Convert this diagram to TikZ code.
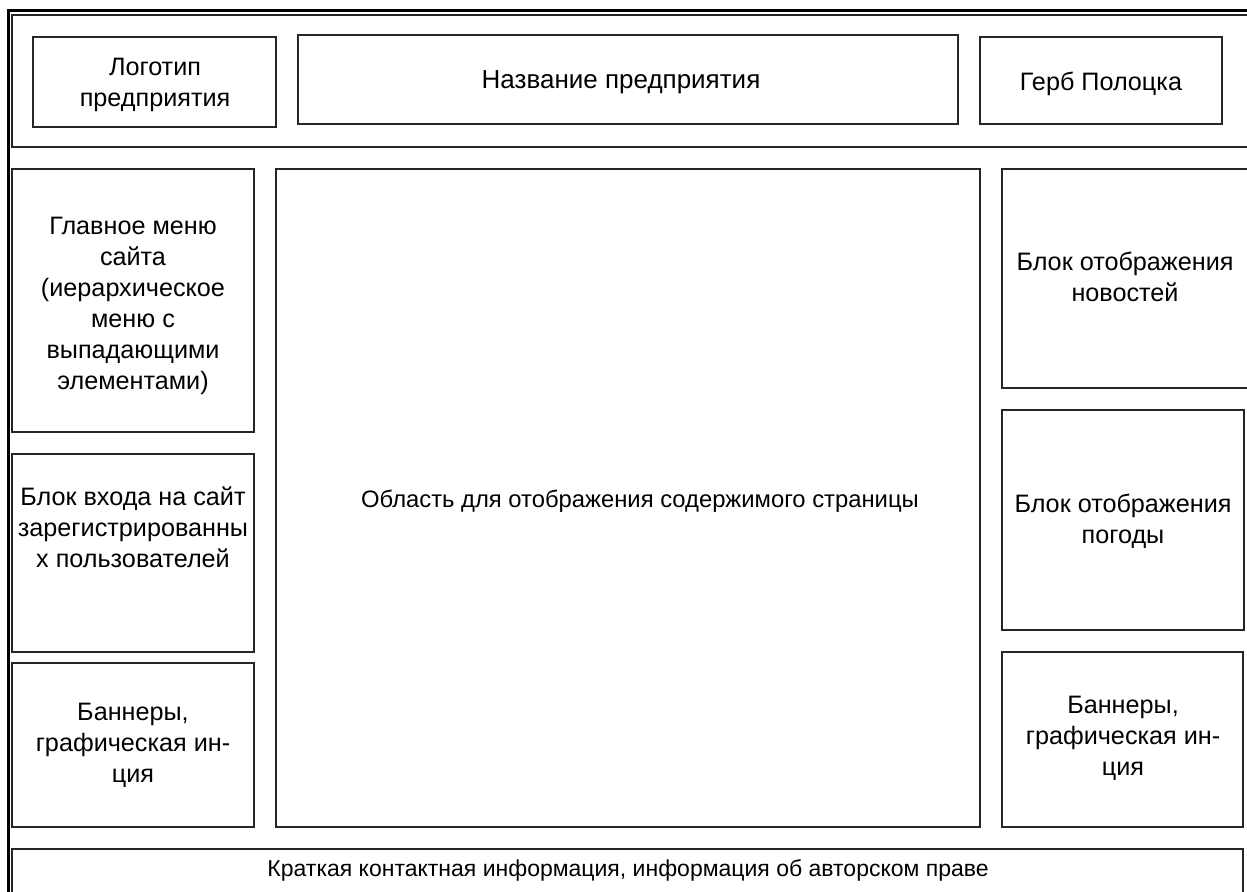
\documentclass[tikz,border=0pt]{standalone}
\usepackage{fontspec}
\setmainfont{Liberation Sans}
\usetikzlibrary{fit}
\begin{document}
\begin{tikzpicture}[x=0.5pt,y=-0.5pt,
  box/.style={draw=black!85, line width=0.6pt, inner sep=0pt},
  txt/.style={align=center, inner sep=0pt, font=\fontsize{12.6}{15.5}\selectfont},
  frame/.style={draw=black, line width=1.5pt, inner sep=0pt},
  hdr/.style={draw=black!85, line width=0.6pt, inner sep=0pt}]
\useasboundingbox (0,0) rectangle (1247,892);
\clip (0,0) rectangle (1247,892);
% outer frame and header band
\node[frame, fit={(8,11)(1280,910)}] (outer) {};
\node[hdr, fit={(12,15)(1250,147)}] (header) {};
% header boxes
\node[box, fit={(33,37)(276,127)}] (logo) {};
\node[txt] (logotxt) at (155,85) {Логотип\\предприятия};
\node[box, fit={(298,35)(958,124)}] (name) {};
\node[txt, font=\fontsize{13}{15.5}\selectfont] (nametxt) at (621,82.5) {Название предприятия};
\node[box, fit={(980,37)(1222,124)}] (gerb) {};
\node[txt] (gerbtxt) at (1101,83.5) {Герб Полоцка};
% left column
\node[box, fit={(12,169)(254,432)}] (menu) {};
\node[txt] (menutxt) at (133,305.5) {Главное меню\\сайта\\(иерархическое\\меню с\\выпадающими\\элементами)};
\node[box, fit={(12,454)(254,652)}] (login) {};
\node[txt] (logintxt) at (133,527) {Блок входа на сайт\\зарегистрированны\\х пользователей};
\node[box, fit={(12,663)(254,827)}] (banl) {};
\node[txt] (banltxt) at (133,745) {Баннеры,\\графическая ин-\\ция};
% content
\node[box, fit={(276,169)(980,827)}] (content) {};
\node[txt, font=\fontsize{11.9}{15.5}\selectfont] (contenttxt) at (640,501) {Область для отображения содержимого страницы};
% right column
\node[box, fit={(1002,169)(1249,388)}] (news) {};
\node[txt] (newstxt) at (1125,277) {Блок отображения\\новостей};
\node[box, fit={(1002,410)(1244,630)}] (weather) {};
\node[txt] (weathertxt) at (1123,521) {Блок отображения\\погоды};
\node[box, fit={(1002,652)(1243,827)}] (banr) {};
\node[txt] (banrtxt) at (1123,738) {Баннеры,\\графическая ин-\\ция};
% footer
\node[box, fit={(12,849)(1243,910)}] (footer) {};
\node[txt, font=\fontsize{11.5}{15.5}\selectfont] (footertxt) at (628,870) {Краткая контактная информация, информация об авторском праве};
\end{tikzpicture}
\end{document}
